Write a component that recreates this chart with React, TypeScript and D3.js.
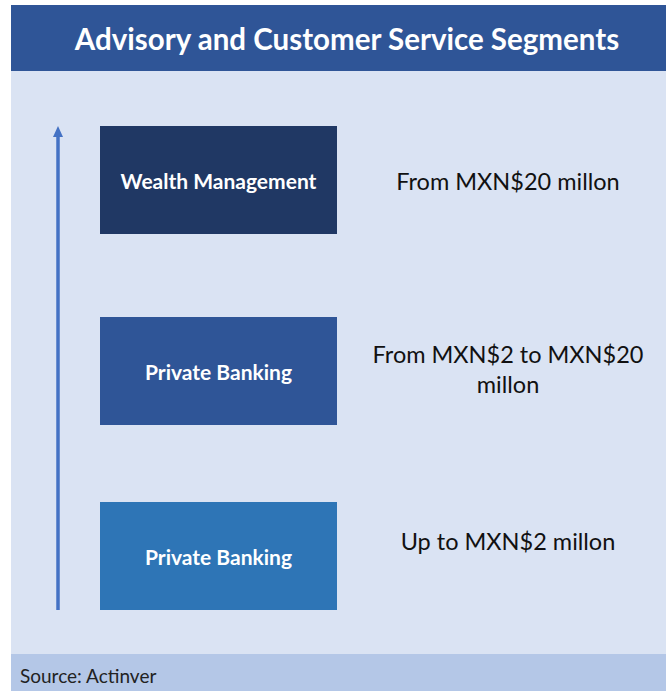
import React from "react";
import * as d3 from "d3";

const title = "Advisory and Customer Service Segments";
const segments = ["Wealth Management", "Private Banking", "Private Banking"];
const ranges: string[][] = [
  ["From MXN$20 millon"],
  ["From MXN$2 to MXN$20", "millon"],
  ["Up to MXN$2 millon"],
];
const source = "Source: Actinver";

const W = 666;
const H = 691;
const boxColors = ["#203864", "#2F5597", "#2E75B6"];
const FONT = "Lato, 'Open Sans', sans-serif";
const textDy = [1, -2, -15];

export default function App() {
  const idx = segments.map((_, i) => i);
  const y = d3.scaleOrdinal<number, number>().domain(idx).range([180, 371, 556]);
  const boxW = 237;
  const boxH = 108;
  const boxX = 100;
  const textX = 508;

  return (
    <svg
      width={W}
      height={H}
      style={{ position: "absolute", left: 0, top: 0 }}
      fontFamily={FONT}
    >
      <rect x={0} y={0} width={W} height={H} fill="#ffffff" />
      <rect x={11} y={5} width={W - 11} height={66} fill="#2F5597" />
      <rect x={11} y={71} width={W - 11} height={583} fill="#DAE3F3" />
      <rect x={11} y={654} width={W - 11} height={H - 654} fill="#B4C7E7" />
      <text
        x={347}
        y={38}
        textAnchor="middle"
        dominantBaseline="central"
        fill="#ffffff"
        fontWeight="bold"
        fontSize={29.5}
      >
        {title}
      </text>
      {/* arrow */}
      <line x1={58} x2={58} y1={610} y2={136} stroke="#4472C4" strokeWidth={3.5} />
      <path d="M53,137 L58,126 L63,137 Z" fill="#4472C4" />
      {segments.map((s, i) => (
        <g key={i}>
          <rect
            x={boxX}
            y={y(i) - boxH / 2}
            width={boxW}
            height={boxH}
            fill={boxColors[i]}
          />
          <text
            x={boxX + boxW / 2}
            y={y(i)}
            textAnchor="middle"
            dominantBaseline="central"
            fill="#ffffff"
            fontWeight="bold"
            fontSize={21}
          >
            {s}
          </text>
          {ranges[i].map((t, j) => (
            <text
              key={j}
              x={textX}
              y={y(i) + (j - (ranges[i].length - 1) / 2) * 30 + textDy[i]}
              textAnchor="middle"
              dominantBaseline="central"
              fill="#111111"
              fontSize={23.5}
            >
              {t}
            </text>
          ))}
        </g>
      ))}
      <text x={20} y={675} dominantBaseline="central" fill="#222222" fontSize={19}>
        {source}
      </text>
    </svg>
  );
}
